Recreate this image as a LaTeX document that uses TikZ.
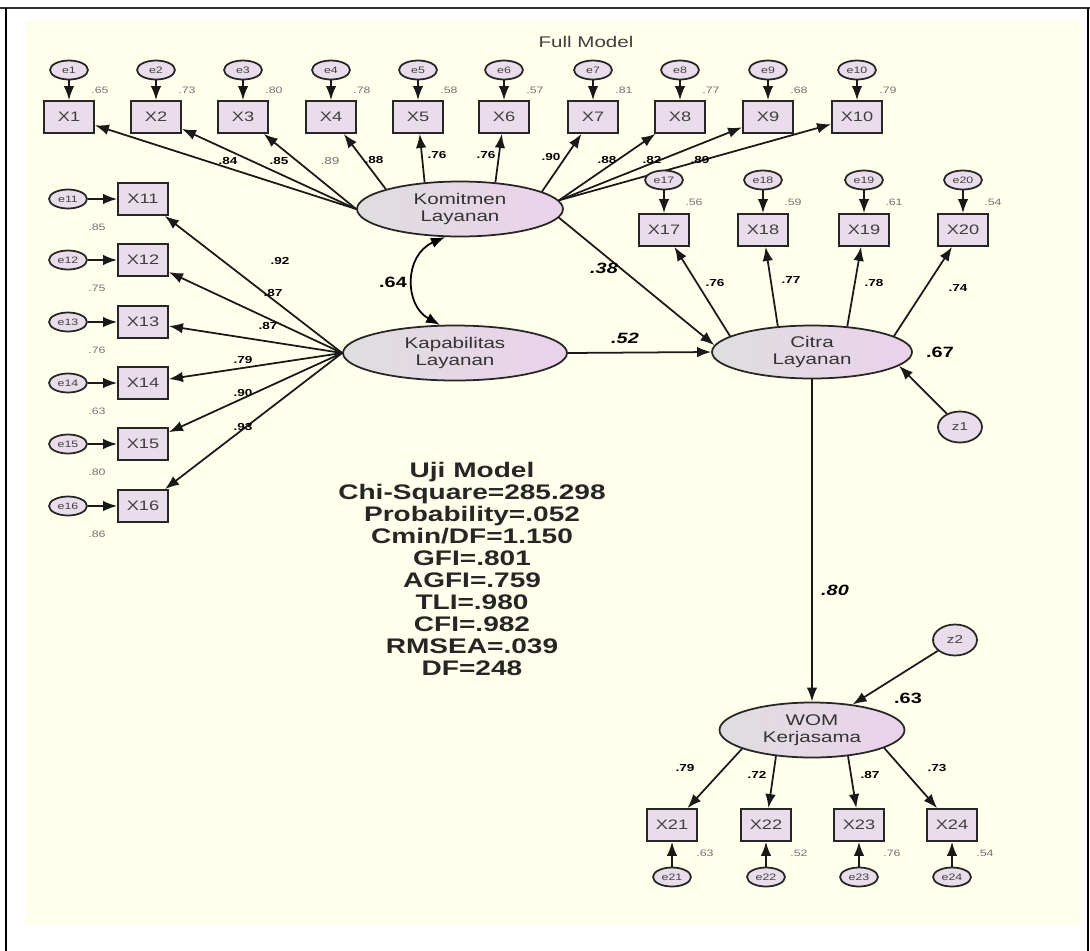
\documentclass[tikz,border=0pt]{standalone}
\usepackage{fontspec}
\setmainfont{Liberation Sans}[FakeStretch=1.33]
\usepackage{tikz}
\usetikzlibrary{positioning, arrows.meta, shapes.geometric}
\usepackage{xcolor}

\definecolor{cream}{HTML}{FFFFEC}
\definecolor{boxfill}{HTML}{EADDEB}
\definecolor{latleft}{HTML}{DEDEDE}
\definecolor{latright}{HTML}{EBD2EB}

\begin{document}
\begin{tikzpicture}[x=0.02cm, y=-0.02cm,
    obs/.style={draw=black!85, line width=1pt, fill=boxfill, minimum width=1cm, minimum height=0.64cm, inner sep=0pt, font=\fontsize{7.8}{9}\selectfont, text=black!75},
    err/.style={ellipse, draw=black!85, line width=1pt, fill=boxfill, minimum width=0.76cm, minimum height=0.38cm, inner sep=0pt, font=\fontsize{5.3}{6}\selectfont, text=black!75},
    dist/.style={err, minimum width=0.88cm, minimum height=0.62cm, font=\fontsize{6.5}{8}\selectfont},
    latent/.style={ellipse, draw=black!85, line width=1pt, left color=latleft, right color=latright, inner sep=0pt, align=center, font=\fontsize{8.8}{10}\selectfont, text=black!80},
    rsq/.style={font=\fontsize{5.3}{6}\selectfont, text=black!55},
    load/.style={font=\bfseries\fontsize{5.8}{7}\selectfont},
    coef/.style={font=\bfseries\fontsize{8.5}{10}\selectfont},
    arr/.style={-{Latex[length=8pt, width=6pt]}, line width=1pt, black!90}
]
    \useasboundingbox (0,0) rectangle (1090,951);
    \fill[cream] (26,20) rectangle (1081,925);
    \draw[line width=1.6pt, black!80] (0,8) -- (1090,8);
    \draw[line width=1pt] (6,8) -- (6,951);
    \draw[line width=0.6pt] (1088,8) -- (1088,951);

    \node[font=\fontsize{8.8}{10}\selectfont, text=black!75] (title) at (586,42) {Full Model};

    % Latent variables
    \node[latent, minimum width=4.12cm, minimum height=1.1cm] (kom) at (460,209) {Komitmen\\Layanan};
    \node[latent, minimum width=4.48cm, minimum height=1.1cm] (kap) at (455,353) {Kapabilitas\\Layanan};
    \node[latent, minimum width=4cm, minimum height=1.06cm] (citra) at (812,352) {Citra\\Layanan};
    \node[latent, minimum width=3.7cm, minimum height=1.1cm] (wom) at (812,730) {WOM\\Kerjasama};
    \node[dist] (z1) at (960,427) {z1};
    \node[dist] (z2) at (955,640) {z2};

    % Indicators of Komitmen Layanan
    \node[obs] (x1) at (69,117) {X1};
    \node[obs] (x2) at (156,117) {X2};
    \node[obs] (x3) at (243,117) {X3};
    \node[obs] (x4) at (331,117) {X4};
    \node[obs] (x5) at (418,117) {X5};
    \node[obs] (x6) at (504,117) {X6};
    \node[obs] (x7) at (593,117) {X7};
    \node[obs] (x8) at (680,117) {X8};
    \node[obs] (x9) at (768,117) {X9};
    \node[obs] (x10) at (857,117) {X10};
    \node[err] (e1) at (69,70) {e1};
    \node[err] (e2) at (156,70) {e2};
    \node[err] (e3) at (243,70) {e3};
    \node[err] (e4) at (331,70) {e4};
    \node[err] (e5) at (418,70) {e5};
    \node[err] (e6) at (504,70) {e6};
    \node[err] (e7) at (593,70) {e7};
    \node[err] (e8) at (680,70) {e8};
    \node[err] (e9) at (768,70) {e9};
    \node[err] (e10) at (857,70) {e10};
    \node[rsq] (r1) at (100,90) {.65};
    \node[rsq] (r2) at (187,90) {.73};
    \node[rsq] (r3) at (274,90) {.80};
    \node[rsq] (r4) at (362,90) {.78};
    \node[rsq] (r5) at (449,90) {.58};
    \node[rsq] (r6) at (535,90) {.57};
    \node[rsq] (r7) at (624,90) {.81};
    \node[rsq] (r8) at (711,90) {.77};
    \node[rsq] (r9) at (799,90) {.68};
    \node[rsq] (r10) at (888,90) {.79};
    \foreach \i in {1,...,10} {\draw[arr] (e\i) -- (x\i);}
    \draw[arr] (kom.west) -- (x1);
    \draw[arr] (kom.west) -- (x2);
    \draw[arr] (kom.west) -- (x3);
    \draw[arr] (kom.165) -- (x4);
    \draw[arr] (kom.143) -- (x5);
    \draw[arr] (kom.37) -- (x6);
    \draw[arr] (kom.12) -- (x7);
    \draw[arr] (kom.5) -- (x8);
    \draw[arr] (kom.5) -- (x9);
    \draw[arr] (kom.5) -- (x10);
    \node[load] (l1) at (228,161) {.84};
    \node[load] (l2) at (279,161) {.85};
    \node[rsq, font=\fontsize{5.8}{7}\selectfont] (l3) at (330,161) {.89};
    \node[load] (l4) at (374,160) {.88};
    \node[load] (l5) at (437,155) {.76};
    \node[load] (l6) at (486,155) {.76};
    \node[load] (l7) at (551,157) {.90};
    \node[load] (l8) at (607,160) {.88};
    \node[load] (l9) at (652,160) {.82};
    \node[load] (l10) at (700,160) {.89};

    % Indicators of Kapabilitas Layanan
    \node[obs] (x11) at (143,199) {X11};
    \node[obs] (x12) at (143,260) {X12};
    \node[obs] (x13) at (143,322) {X13};
    \node[obs] (x14) at (143,383) {X14};
    \node[obs] (x15) at (143,444) {X15};
    \node[obs] (x16) at (143,506) {X16};
    \node[err] (e11) at (68,199) {e11};
    \node[err] (e12) at (68,260) {e12};
    \node[err] (e13) at (68,322) {e13};
    \node[err] (e14) at (68,383) {e14};
    \node[err] (e15) at (68,444) {e15};
    \node[err] (e16) at (68,506) {e16};
    \node[rsq] (r11) at (97,227) {.85};
    \node[rsq] (r12) at (97,288) {.75};
    \node[rsq] (r13) at (97,350) {.76};
    \node[rsq] (r14) at (97,411) {.63};
    \node[rsq] (r15) at (97,472) {.80};
    \node[rsq] (r16) at (97,534) {.86};
    \foreach \i in {11,...,16} {\draw[arr] (e\i) -- (x\i);}
    \foreach \i in {11,...,16} {\draw[arr] (kap.west) -- (x\i);}
    \node[load] (l11) at (280,261) {.92};
    \node[load] (l12) at (273,293) {.87};
    \node[load] (l13) at (268,326) {.87};
    \node[load] (l14) at (243,360) {.79};
    \node[load] (l15) at (243,393) {.90};
    \node[load] (l16) at (243,427) {.93};

    % Indicators of Citra Layanan
    \node[obs] (x17) at (664,230) {X17};
    \node[obs] (x18) at (763,230) {X18};
    \node[obs] (x19) at (864,230) {X19};
    \node[obs] (x20) at (963,230) {X20};
    \node[err] (e17) at (664,180) {e17};
    \node[err] (e18) at (763,180) {e18};
    \node[err] (e19) at (864,180) {e19};
    \node[err] (e20) at (963,180) {e20};
    \node[rsq] (r17) at (694,202) {.56};
    \node[rsq] (r18) at (793,202) {.59};
    \node[rsq] (r19) at (894,202) {.61};
    \node[rsq] (r20) at (993,202) {.54};
    \foreach \i in {17,...,20} {\draw[arr] (e\i) -- (x\i);}
    \draw[arr] (citra.169) -- (x17);
    \draw[arr] (citra.143) -- (x18);
    \draw[arr] (citra.36) -- (x19);
    \draw[arr] (citra.11) -- (x20);
    \node[load] (l17) at (715,283) {.76};
    \node[load] (l18) at (791,280) {.77};
    \node[load] (l19) at (874,283) {.78};
    \node[load] (l20) at (958,288) {.74};

    % Indicators of WOM Kerjasama
    \node[obs] (x21) at (672,825) {X21};
    \node[obs] (x22) at (766,825) {X22};
    \node[obs] (x23) at (859,825) {X23};
    \node[obs] (x24) at (952,825) {X24};
    \node[err] (e21) at (672,877) {e21};
    \node[err] (e22) at (766,877) {e22};
    \node[err] (e23) at (859,877) {e23};
    \node[err] (e24) at (952,877) {e24};
    \node[rsq] (r21) at (705,853) {.63};
    \node[rsq] (r22) at (799,853) {.52};
    \node[rsq] (r23) at (892,853) {.76};
    \node[rsq] (r24) at (985,853) {.54};
    \foreach \i in {21,...,24} {\draw[arr] (e\i) -- (x\i);}
    \draw[arr] (wom.-165) -- (x21);
    \draw[arr] (wom.-144) -- (x22);
    \draw[arr] (wom.-36) -- (x23);
    \draw[arr] (wom.-14) -- (x24);
    \node[load] (l21) at (685,768) {.79};
    \node[load] (l22) at (757,775) {.72};
    \node[load] (l23) at (870,775) {.87};
    \node[load] (l24) at (937,768) {.73};

    % Structural paths
    \draw[{Latex[length=8pt, width=6pt]}-{Latex[length=8pt, width=6pt]}, line width=1pt] (kom.-118) .. controls (404,255) and (404,305) .. (kap.118);
    \draw[arr] (kom.-5) -- (citra.176);
    \draw[arr] (kap.east) -- (citra.west);
    \draw[arr] (citra) -- (wom);
    \draw[arr] (z1) -- (citra.-9);
    \draw[arr] (z2) -- (wom);
    \node[coef] (c64) at (393,282) {.64};
    \node[coef, font=\bfseries\itshape\fontsize{8.5}{10}\selectfont] (c38) at (604,268) {.38};
    \node[coef, font=\bfseries\itshape\fontsize{8.5}{10}\selectfont] (c52) at (625,338) {.52};
    \node[coef, font=\bfseries\itshape\fontsize{8.5}{10}\selectfont] (c80) at (835,590) {.80};
    \node[coef] (c67) at (940,352) {.67};
    \node[coef] (c63) at (908,698) {.63};

    % Fit indices
    \node[align=center, font=\bfseries\fontsize{12}{12.5}\selectfont, text=black!85] (fit) at (472,569)
        {Uji Model\\Chi-Square=285.298\\Probability=.052\\Cmin/DF=1.150\\GFI=.801\\AGFI=.759\\TLI=.980\\CFI=.982\\RMSEA=.039\\DF=248};
\end{tikzpicture}
\end{document}
